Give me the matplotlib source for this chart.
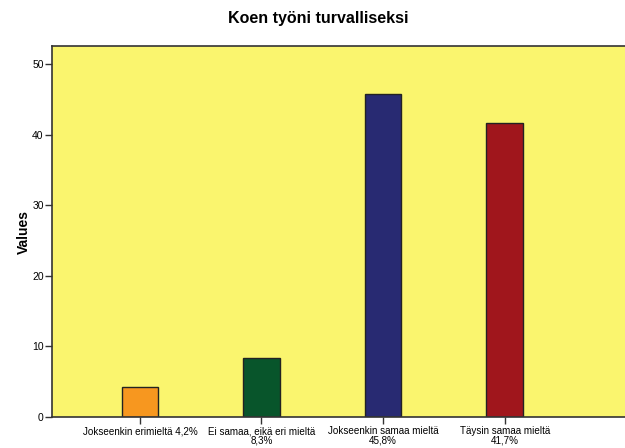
import matplotlib
matplotlib.use("Agg")
import matplotlib.pyplot as plt

categories = ["Jokseenkin erimieltä 4,2%", "Ei samaa, eikä eri mieltä\n8,3%",
              "Jokseenkin samaa mieltä\n45,8%", "Täysin samaa mieltä\n41,7%"]
values = [4.2, 8.3, 45.8, 41.7]
colors = ["#F7971F", "#08552B", "#282A72", "#A0161C"]
yticks = [0, 10, 20, 30, 40, 50]

plt.rcParams['font.family'] = ['Liberation Sans', 'DejaVu Sans']
fig = plt.figure(figsize=(6.25, 4.48), dpi=100)
ax = fig.add_axes([52/625, 1-417/448, 1-52/625, (417-46.5)/448])
ax.set_facecolor("#FAF56E")
x = list(range(len(values)))
ax.bar(x, values, width=0.3, color=colors, edgecolor="#222222", linewidth=1)
ax.set_xlim(-0.723, 3.99)
ax.set_ylim(0, 52.5)
ax.set_yticks(yticks)
ax.set_xticks(x)
ax.set_xticklabels(categories, fontsize=7.1, linespacing=0.95)
ax.tick_params(axis='y', labelsize=7.5, length=5, width=1, color="#333333", pad=1)
ax.tick_params(axis='x', length=5, width=1, color="#333333", pad=1.5)
for s in ["left", "bottom", "top"]:
    ax.spines[s].set_color("#333333")
    ax.spines[s].set_linewidth(1.2)
ax.spines["right"].set_visible(False)
ax.set_ylabel("Values", fontsize=10, fontweight="bold", labelpad=1)
fig.suptitle("Koen työni turvalliseksi", fontsize=11.5, fontweight="bold", x=0.509, y=0.975)
fig.savefig("out.png", dpi=100)
